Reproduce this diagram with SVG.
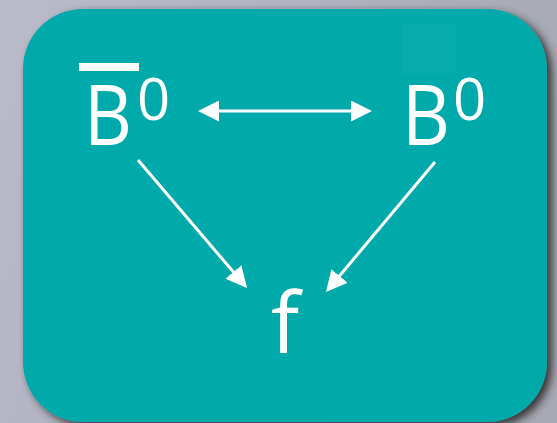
<svg xmlns="http://www.w3.org/2000/svg" width="557" height="423" viewBox="0 0 557 423">
<defs>
<linearGradient id="bg" x1="0" y1="0" x2="1" y2="0.3">
<stop offset="0" stop-color="#babaca"/>
<stop offset="1" stop-color="#a9a9b5"/>
</linearGradient>
<filter id="sh" x="-10%" y="-10%" width="125%" height="125%">
<feDropShadow dx="5" dy="4" stdDeviation="4" flood-color="#26262c" flood-opacity="0.9"/>
</filter>
<marker id="ah" viewBox="0 0 21 21" refX="16" refY="10.5" markerWidth="21" markerHeight="21" markerUnits="userSpaceOnUse" orient="auto-start-reverse">
<path d="M0,0 L21,10.5 L0,21 z" fill="#ffffff"/>
</marker>
</defs>
<style>
.lbl{font-family:"Open Sans","Noto Sans","DejaVu Sans",sans-serif;fill:#ffffff}
.big{font-size:84px}
.sup{font-size:58px}
.conn line{stroke:#ffffff;stroke-width:3;fill:none}
</style>
<rect x="0" y="0" width="557" height="423" fill="url(#bg)"/>
<g id="panel">
<rect x="23" y="9" width="524" height="413" rx="60" ry="60" fill="#02a9aa" filter="url(#sh)"/>
<rect x="402" y="24" width="55" height="50" fill="#06acac"/>
</g>
<g id="node-B0bar">
<rect x="79" y="63" width="60" height="8" fill="#ffffff"/>
<text class="lbl big" x="84" y="145" textLength="48" lengthAdjust="spacingAndGlyphs">B</text>
<text class="lbl sup" x="137" y="120">0</text>
</g>
<g id="node-B0">
<text class="lbl big" x="402" y="145" textLength="48" lengthAdjust="spacingAndGlyphs">B</text>
<text class="lbl sup" x="453" y="120">0</text>
</g>
<g id="node-f">
<text class="lbl big" x="271" y="353">f</text>
</g>
<g id="connectors" class="conn">
<line x1="203" y1="111" x2="367" y2="111" marker-start="url(#ah)" marker-end="url(#ah)"/>
<line x1="138" y1="160" x2="243.8" y2="284.2" marker-end="url(#ah)"/>
<line x1="435" y1="162" x2="329.2" y2="288.2" marker-end="url(#ah)"/>
</g>
</svg>
